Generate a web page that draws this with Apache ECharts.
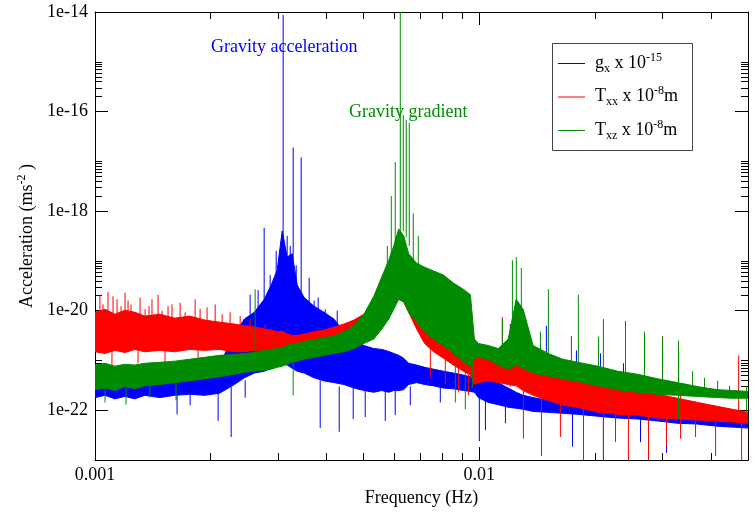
<!DOCTYPE html>
<html>
<head>
<meta charset="utf-8">
<script src="https://cdn.jsdelivr.net/npm/echarts@6/dist/echarts.min.js"></script>
<style>
  html, body { margin: 0; padding: 0; background: #fff; }
  #chart { width: 755px; height: 512px; }
</style>
</head>
<body>
<div id="chart"></div>
<script>
// frequency nodes (Hz) shared by the three noise bands
const freqs = [0.001, 0.001062, 0.001127, 0.001196, 0.00127, 0.001348, 0.001474, 0.001612, 0.001763, 0.001928,
  0.002108, 0.002305, 0.002447, 0.002597, 0.002757, 0.002874, 0.002979, 0.003069, 0.003162, 0.003258,
  0.003357, 0.0035, 0.003715, 0.003944, 0.004186, 0.004443, 0.004717, 0.005006, 0.005314, 0.005574,
  0.005811, 0.005987, 0.006169, 0.006356, 0.006548, 0.006868, 0.007204, 0.007601, 0.008067, 0.008561,
  0.009087, 0.009478, 0.009707, 0.00994, 0.01055, 0.0112, 0.01189, 0.01247, 0.013, 0.0138,
  0.0151, 0.0165, 0.01805, 0.02034, 0.02291, 0.02581, 0.02909, 0.03277, 0.03693, 0.04161,
  0.0455, 0.05];

// g_x x 1e-15 : upper / lower edge of the noise band
const gxHi = [4.9e-22, 4.5e-22, 5.1e-22, 4.7e-22, 4.9e-22, 5.1e-22, 5.6e-22, 5.3e-22, 6.1e-22, 6.4e-22,
  8.1e-22, 3.4e-21, 6.8e-21, 9.3e-21, 1.7e-20, 3.3e-20, 6.6e-20, 4.0e-19, 1.2e-19, 1.4e-19,
  3.3e-20, 1.85e-20, 1.23e-20, 9.3e-21, 6.8e-21, 3.8e-21, 2.7e-21, 2.0e-21, 1.74e-21, 1.67e-21,
  1.52e-21, 1.39e-21, 1.27e-21, 1.11e-21, 8.8e-22, 8.1e-22, 7.3e-22, 6.7e-22, 6.1e-22, 5.6e-22,
  5.1e-22, 4.7e-22, 4.5e-22, 4.1e-22, 3.9e-22, 3.6e-22, 2.8e-22, 2.3e-22, 2.0e-22, 1.8e-22,
  1.58e-22, 1.44e-22, 1.3e-22, 1.2e-22, 1.1e-22, 1.0e-22, 9.1e-23, 8.3e-23, 7.6e-23, 7.0e-23,
  6.7e-23, 6.4e-23];
const gxLo = [1.8e-22, 2.0e-22, 1.7e-22, 1.9e-22, 1.7e-22, 2.0e-22, 1.8e-22, 2.0e-22, 2.1e-22, 2.0e-22,
  2.2e-22, 3.3e-22, 4.5e-22, 5.6e-22, 6.1e-22, 7.0e-22, 8.1e-22, 8.8e-22, 8.1e-22, 7.0e-22,
  6.1e-22, 5.6e-22, 4.5e-22, 3.9e-22, 3.6e-22, 3.3e-22, 2.8e-22, 2.5e-22, 2.3e-22, 2.5e-22,
  2.3e-22, 2.5e-22, 2.5e-22, 2.6e-22, 3.3e-22, 3.6e-22, 3.3e-22, 3.1e-22, 2.8e-22, 2.7e-22,
  2.5e-22, 2.4e-22, 2.3e-22, 1.8e-22, 1.44e-22, 1.3e-22, 1.15e-22, 1.1e-22, 1.05e-22, 9.5e-23,
  9.1e-23, 8.7e-23, 8.3e-23, 7.6e-23, 7.0e-23, 6.7e-23, 6.1e-23, 5.5e-23, 5.3e-23, 4.8e-23,
  4.6e-23, 4.4e-23];

// T_xx x 1e-8 m
const txxHi = [9.3e-21, 1.07e-20, 8.5e-21, 1.02e-20, 9.3e-21, 7.8e-21, 8.5e-21, 7.1e-21, 7.8e-21, 6.5e-21,
  5.9e-21, 5.4e-21, 5.0e-21, 4.7e-21, 4.3e-21, 4.1e-21, 3.8e-21, 3.9e-21, 3.4e-21, 3.2e-21,
  3.2e-21, 3.4e-21, 3.8e-21, 4.1e-21, 4.7e-21, 5.4e-21, 6.5e-21, 8.5e-21, 1.23e-20, 1.7e-20,
  2.1e-20, 2.7e-20, 3.0e-20, 2.7e-20, 2.1e-20, 1.7e-20, 1.34e-20, 1.07e-20, 8.5e-21, 6.8e-21,
  5.4e-21, 4.3e-21, 1.74e-21, 1.39e-21, 1.27e-21, 1.11e-21, 9.7e-22, 8.8e-22, 8.1e-22, 6.7e-22,
  5.6e-22, 4.9e-22, 4.5e-22, 4.1e-22, 3.1e-22, 2.6e-22, 2.1e-22, 1.75e-22, 1.44e-22, 1.2e-22,
  1.05e-22, 9.1e-23];
const txxLo = [1.5e-21, 1.39e-21, 1.6e-21, 1.45e-21, 1.67e-21, 1.5e-21, 1.6e-21, 1.5e-21, 1.67e-21, 1.6e-21,
  1.67e-21, 1.5e-21, 1.5e-21, 1.6e-21, 1.6e-21, 1.67e-21, 1.6e-21, 1.74e-21, 1.74e-21, 1.8e-21,
  1.9e-21, 2.0e-21, 2.2e-21, 2.4e-21, 2.6e-21, 2.9e-21, 3.4e-21, 4.1e-21, 5.4e-21, 6.8e-21,
  8.5e-21, 1.23e-20, 1.7e-20, 1.5e-20, 9.3e-21, 4.3e-21, 2.2e-21, 1.5e-21, 1.11e-21, 8.1e-22,
  6.1e-22, 5.1e-22, 3.3e-22, 3.6e-22, 3.9e-22, 3.6e-22, 3.3e-22, 3.1e-22, 2.5e-22, 2.0e-22,
  1.58e-22, 1.26e-22, 1.15e-22, 9.1e-23, 8.3e-23, 8.0e-23, 7.0e-23, 6.7e-23, 6.4e-23, 6.1e-23,
  5.8e-23, 5.5e-23];

// T_xz x 1e-8 m
const txzHi = [8.1e-22, 8.8e-22, 7.7e-22, 8.4e-22, 8.1e-22, 8.8e-22, 9.2e-22, 9.7e-22, 1.06e-21, 1.16e-21,
  1.27e-21, 1.33e-21, 1.39e-21, 1.45e-21, 1.6e-21, 1.67e-21, 1.74e-21, 1.8e-21, 2.0e-21, 2.2e-21,
  2.2e-21, 2.4e-21, 2.6e-21, 2.9e-21, 3.1e-21, 3.8e-21, 5.0e-21, 8.5e-21, 1.95e-20, 4.8e-20,
  1.03e-19, 2.0e-19, 4.4e-19, 3.2e-19, 1.4e-19, 9.0e-20, 7.5e-20, 6.3e-20, 5.2e-20, 3.6e-20,
  2.7e-20, 2.1e-20, 2.7e-21, 2.2e-21, 2.0e-21, 1.74e-21, 2.7e-21, 1.7e-20, 1.07e-20, 2.0e-21,
  1.39e-21, 1.06e-21, 9.2e-22, 7.7e-22, 6.1e-22, 5.3e-22, 4.3e-22, 3.6e-22, 3.0e-22, 2.6e-22,
  2.5e-22, 2.4e-22];
const txzLo = [2.6e-22, 2.8e-22, 2.5e-22, 3.0e-22, 2.7e-22, 3.1e-22, 3.3e-22, 3.6e-22, 3.9e-22, 4.3e-22,
  4.7e-22, 5.3e-22, 5.8e-22, 6.1e-22, 6.4e-22, 6.7e-22, 7.3e-22, 7.7e-22, 8.4e-22, 9.2e-22,
  9.7e-22, 1.06e-21, 1.16e-21, 1.27e-21, 1.39e-21, 1.5e-21, 1.74e-21, 2.2e-21, 2.7e-21, 4.3e-21,
  6.8e-21, 1.07e-20, 1.7e-20, 1.5e-20, 9.3e-21, 6.0e-21, 3.8e-21, 2.7e-21, 2.0e-21, 1.39e-21,
  9.7e-22, 7.7e-22, 1.11e-21, 1.16e-21, 1.06e-21, 8.1e-22, 6.7e-22, 8.1e-22, 7.0e-22, 5.6e-22,
  4.9e-22, 4.3e-22, 3.8e-22, 3.1e-22, 2.6e-22, 2.3e-22, 2.1e-22, 2.0e-22, 1.9e-22, 1.8e-22,
  1.75e-22, 1.75e-22];

// single spectral lines: [frequency, from, to]
const gxSpikes = [
  [0.003087, 2e-20, 8.7e-15], [0.003278, 1e-19, 1.9e-17], [0.003439, 2e-20, 1.2e-17],
  [0.002755, 1e-20, 4.6e-19], [0.003608, 1e-20, 4.6e-20], [0.003808, 5e-21, 1.85e-20],
  [0.003972, 4e-21, 1.07e-20], [0.004268, 3e-21, 1.0e-20], [0.002856, 1e-20, 5.2e-20],
  [0.002961, 2e-20, 1.6e-19], [0.003162, 5e-20, 3.2e-19], [0.003338, 3e-20, 8.2e-20],
  [0.002533, 1e-21, 2.1e-20], [0.002657, 1e-21, 2.6e-20], [0.003221, 5e-20, 2.0e-19],
  [0.003718, 5e-21, 1.6e-20], [0.004092, 3e-21, 7e-21],
  [0.01204, 3e-22, 5.4e-21], [0.01494, 1.5e-22, 5.0e-21], [0.01789, 1.2e-22, 1.6e-21],
  [0.02066, 1e-22, 1.39e-21], [0.02371, 9e-23, 8.8e-22],
  [0.001635, 3e-22, 8.3e-23], [0.001768, 3e-22, 1.26e-22], [0.002091, 3e-22, 6.1e-23],
  [0.002261, 3e-22, 2.9e-23], [0.002459, 4e-22, 1.8e-22], [0.003854, 4e-22, 4.4e-23],
  [0.004319, 3e-22, 3.7e-23], [0.004697, 3e-22, 6.7e-23], [0.005048, 3e-22, 7.3e-23],
  [0.005691, 3e-22, 6.1e-23], [0.006042, 3e-22, 8.0e-23], [0.006611, 3e-22, 1.26e-22],
  [0.007914, 3e-22, 1.44e-22], [0.01, 2.5e-22, 2.4e-23], [0.01037, 2e-22, 4.0e-23],
  [0.01169, 1.5e-22, 5.5e-23], [0.01747, 9e-23, 1.87e-23], [0.02103, 8e-23, 9e-24],
  [0.02626, 7e-23, 2.3e-23], [0.03069, 6e-23, 1.4e-23]
];
const txxSpikes = [
  [0.00103, 2e-21, 2.1e-20], [0.001081, 2e-21, 2.4e-20], [0.001141, 2e-21, 1.7e-20],
  [0.001197, 2e-21, 2.3e-20], [0.001241, 2e-21, 1.34e-20], [0.00131, 2e-21, 1.85e-20],
  [0.001382, 2e-21, 1.23e-20], [0.001459, 2e-21, 2.1e-20], [0.001549, 2e-21, 1.23e-20],
  [0.001665, 2e-21, 1.45e-20], [0.001822, 2e-21, 1.7e-20], [0.001957, 2e-21, 1.17e-20],
  [0.002054, 2e-21, 1.34e-20], [0.002247, 2e-21, 9.3e-21], [0.002533, 2e-21, 6.8e-21],
  [0.002772, 2e-21, 5.4e-21],
  [0.001049, 2e-21, 1.34e-20], [0.001114, 2e-21, 1.95e-20], [0.001169, 2e-21, 1.23e-20],
  [0.001219, 2e-21, 1.6e-20], [0.00135, 2e-21, 1.07e-20], [0.001407, 2e-21, 1.7e-20],
  [0.001494, 2e-21, 1.0e-20], [0.001586, 2e-21, 1.34e-20], [0.001716, 2e-21, 9.3e-21],
  [0.001877, 2e-21, 1.1e-20], [0.002142, 2e-21, 8.5e-21], [0.002386, 2e-21, 7.8e-21],
  [0.01148, 5e-22, 7.4e-21], [0.01736, 2e-22, 3.1e-21], [0.02996, 1.2e-22, 3.1e-21],
  [0.04727, 8e-23, 1.27e-21],
  [0.001107, 3e-21, 8.1e-22], [0.001294, 3e-21, 8.8e-22], [0.001521, 3e-21, 7.3e-22],
  [0.001854, 3e-21, 9.7e-22], [0.007455, 3e-21, 4.5e-22], [0.008156, 3e-21, 3.3e-22],
  [0.008817, 3e-21, 2.3e-22], [0.009363, 3e-21, 2.0e-22],
  [0.01302, 6e-22, 2.7e-23], [0.01451, 5e-22, 1.2e-23], [0.01625, 4e-22, 2.9e-23],
  [0.01866, 4e-22, 9e-24], [0.02103, 3e-22, 9e-24], [0.02261, 3e-22, 2.3e-23],
  [0.02443, 3e-22, 9e-24], [0.02755, 2e-22, 9e-24], [0.03069, 2e-22, 1.9e-23],
  [0.03338, 2e-22, 2.7e-23], [0.03652, 1.5e-22, 2.9e-23], [0.04117, 1.2e-22, 1.2e-23],
  [0.04812, 1e-22, 9e-24]
];
const txzSpikes = [
  [0.006227, 4e-19, 1.2e-14], [0.00634, 4e-19, 8.5e-17], [0.006454, 3e-19, 6.8e-17],
  [0.006571, 2e-19, 5.9e-17], [0.006042, 2e-19, 9.7e-18], [0.005901, 1e-19, 2.0e-18],
  [0.006731, 1e-19, 9e-19], [0.005761, 5e-20, 2.0e-19], [0.006936, 8e-20, 3.2e-19],
  [0.00261, 1e-21, 2.7e-20], [0.01148, 1e-21, 6.8e-21], [0.01219, 1.5e-21, 1.03e-19],
  [0.01248, 1.5e-21, 1.2e-19], [0.01286, 1.5e-21, 7.2e-20], [0.01442, 1e-21, 3.8e-21],
  [0.01512, 1e-21, 2.7e-20], [0.0181, 8e-22, 2.1e-20], [0.02041, 7e-22, 3.0e-21],
  [0.02103, 7e-22, 6.8e-21], [0.024, 5e-22, 6.2e-21], [0.0269, 4e-22, 3.8e-21],
  [0.02996, 4e-22, 3.0e-21], [0.03297, 3e-22, 2.5e-21], [0.03587, 3e-22, 6.1e-22],
  [0.03854, 2.5e-22, 4.5e-22], [0.04167, 2.5e-22, 3.9e-22], [0.04477, 2e-22, 3.1e-22],
  [0.001062, 8e-22, 1.44e-22], [0.001204, 8e-22, 1.3e-22], [0.00139, 8e-22, 1.8e-22],
  [0.001625, 8e-22, 1.58e-22], [0.003278, 1.5e-21, 2.0e-22], [0.00866, 1.5e-21, 1.44e-22],
  [0.009194, 1.5e-21, 1.05e-22], [0.00959, 1.5e-21, 2.8e-22], [0.03297, 3e-22, 6.7e-23],
  [0.04958, 3e-22, 9e-23]
];

// axis ticks and labels
const xMajor = [0.001, 0.01];
const xTickLabels = ['0.001', '0.01'];
const xMinor = [0.002, 0.003, 0.004, 0.005, 0.006, 0.007, 0.008, 0.009, 0.02, 0.03, 0.04];
const yMajor = [1e-22, 1e-20, 1e-18, 1e-16, 1e-14];
const yTickLabels = ['1e-22', '1e-20', '1e-18', '1e-16', '1e-14'];
const yMinorSteps = [2, 3, 4, 5, 6, 7, 8, 9, 10];

const lg = v => +Math.log10(v).toFixed(6);
const xMajorLog = xMajor.map(lg);
const xMinorLog = xMinor.map(lg);
const yMajorLog = yMajor.map(lg);
const yMinorLog = [];
yMajor.slice(0, -1).forEach(v => yMinorSteps.forEach(n => yMinorLog.push(lg(v * n))));

const FONT = 'Liberation Serif';
const BLUE = '#0000ff', RED = '#ff0000', GREEN = '#008b00';

// legend entries (label with sub/superscripts)
const legendItems = [
  { color: BLUE, label: '{n|g}{sb|x}{n| x 10}{sp|-15}' },
  { color: RED, label: '{n|T}{sb|xx}{n| x 10}{sp|-8}{n|m}' },
  { color: GREEN, label: '{n|T}{sb|xz}{n| x 10}{sp|-8}{n|m}' }
];
const rich = {
  n: { fontFamily: FONT, fontSize: 18, fill: '#000', color: '#000' },
  sb: { fontFamily: FONT, fontSize: 12, fill: '#000', color: '#000', padding: [11, 0, 0, 0] },
  sp: { fontFamily: FONT, fontSize: 12, fill: '#000', color: '#000', padding: [0, 0, 11, 0] }
};

// noise band: one filled outline through all nodes (upper edge, then lower edge back)
function band(name, color, hi, lo) {
  const data = freqs.map((f, i) => [lg(f), lg(hi[i]), lg(lo[i])]);
  return {
    type: 'custom', name, silent: true, clip: true, data,
    itemStyle: { color },
    encode: { x: 0, y: [1, 2] },
    renderItem: (params, api) => {
      if (params.dataIndex !== 0) return null;
      const top = data.map(d => api.coord([d[0], d[1]]));
      const bottom = data.map(d => api.coord([d[0], d[2]])).reverse();
      return {
        type: 'polygon', shape: { points: top.concat(bottom) },
        style: { fill: color, stroke: color, lineWidth: 1 }
      };
    }
  };
}

// vertical spectral lines
function spikes(name, color, list) {
  return {
    type: 'custom', name, silent: true, clip: true,
    data: list.map(s => [lg(s[0]), lg(s[1]), lg(s[2])]),
    encode: { x: 0, y: [1, 2] },
    renderItem: (params, api) => {
      const p = api.coord([api.value(0), api.value(1)]);
      const q = api.coord([api.value(0), api.value(2)]);
      return {
        type: 'line', shape: { x1: p[0], y1: p[1], x2: q[0], y2: q[1] },
        style: { stroke: color, lineWidth: 1 }
      };
    }
  };
}

function xAxisDef(pos, major) {
  return {
    type: 'value', position: pos, min: lg(0.001), max: lg(0.05),
    axisLine: { show: major, onZero: false, lineStyle: { color: '#000', width: 1 } },
    axisTick: { show: true, inside: true, length: major ? 13 : 7,
      customValues: major ? xMajorLog : xMinorLog, lineStyle: { color: '#000' } },
    axisLabel: { show: false },
    splitLine: { show: false }
  };
}
function yAxisDef(pos, major) {
  return {
    type: 'value', position: pos, min: -23, max: -14,
    axisLine: { show: major, onZero: false, lineStyle: { color: '#000', width: 1 } },
    axisTick: { show: true, inside: true, length: major ? 13 : 7,
      customValues: major ? yMajorLog : yMinorLog, lineStyle: { color: '#000' } },
    axisLabel: { show: false },
    splitLine: { show: false }
  };
}

const xBottom = xAxisDef('bottom', true);
xBottom.axisLabel = {
  show: true, customValues: xMajorLog, margin: 6,
  fontFamily: FONT, fontSize: 18, color: '#000',
  formatter: v => xTickLabels[xMajorLog.findIndex(m => Math.abs(m - v) < 1e-6)]
};
xBottom.name = 'Frequency (Hz)';
xBottom.nameLocation = 'middle';
xBottom.nameGap = 20;
xBottom.nameTextStyle = { fontFamily: FONT, fontSize: 18, color: '#000' };

const yLeft = yAxisDef('left', true);
yLeft.axisLabel = {
  show: true, customValues: yMajorLog, margin: 7,
  fontFamily: FONT, fontSize: 18, color: '#000',
  formatter: v => yTickLabels[yMajorLog.findIndex(m => Math.abs(m - v) < 1e-6)]
};
yLeft.name = 'Acceleration (ms{sp|-2} )';
yLeft.nameLocation = 'middle';
yLeft.nameRotate = 90;
yLeft.nameGap = 39;
yLeft.nameTextStyle = {
  fontFamily: FONT, fontSize: 18, color: '#000',
  rich: { sp: { fontFamily: FONT, fontSize: 12, color: '#000', padding: [0, 0, 10, 0] } }
};

// legend box drawn as graphic: frame, line samples, labels
const legendGraphic = {
  type: 'group', left: 552, top: 43,
  children: [
    { type: 'rect', shape: { x: 0.5, y: 0.5, width: 140, height: 107 },
      style: { fill: '#fff', stroke: '#444', lineWidth: 1 } }
  ].concat(legendItems.flatMap((it, i) => [
    { type: 'line', shape: { x1: 6, y1: 20.5 + i * 33.5, x2: 33, y2: 20.5 + i * 33.5 },
      style: { stroke: it.color, lineWidth: 1 } },
    { type: 'text', x: 43, y: 20 + i * 33.5,
      style: { text: it.label, rich, verticalAlign: 'middle', align: 'left',
        font: '18px "Liberation Serif"', fill: '#000' } }
  ]))
};

const chart = echarts.init(document.getElementById('chart'));
chart.setOption({
  animation: false,
  backgroundColor: '#fff',
  grid: { left: 95, right: 7, top: 12, bottom: 44 },
  xAxis: [xBottom, xAxisDef('bottom', false), xAxisDef('top', true), xAxisDef('top', false)],
  yAxis: [yLeft, yAxisDef('left', false), yAxisDef('right', true), yAxisDef('right', false)],
  graphic: [
    { type: 'text', left: 211, top: 38,
      style: { text: 'Gravity acceleration', fill: BLUE, font: '18px "Liberation Serif"' } },
    { type: 'text', left: 349, top: 103,
      style: { text: 'Gravity gradient', fill: GREEN, font: '18px "Liberation Serif"' } },
    legendGraphic
  ],
  series: [
    band('gx', BLUE, gxHi, gxLo),
    spikes('gxLines', BLUE, gxSpikes),
    band('Txx', RED, txxHi, txxLo),
    spikes('txxLines', RED, txxSpikes),
    band('Txz', GREEN, txzHi, txzLo),
    spikes('txzLines', GREEN, txzSpikes)
  ]
});
</script>
</body>
</html>
